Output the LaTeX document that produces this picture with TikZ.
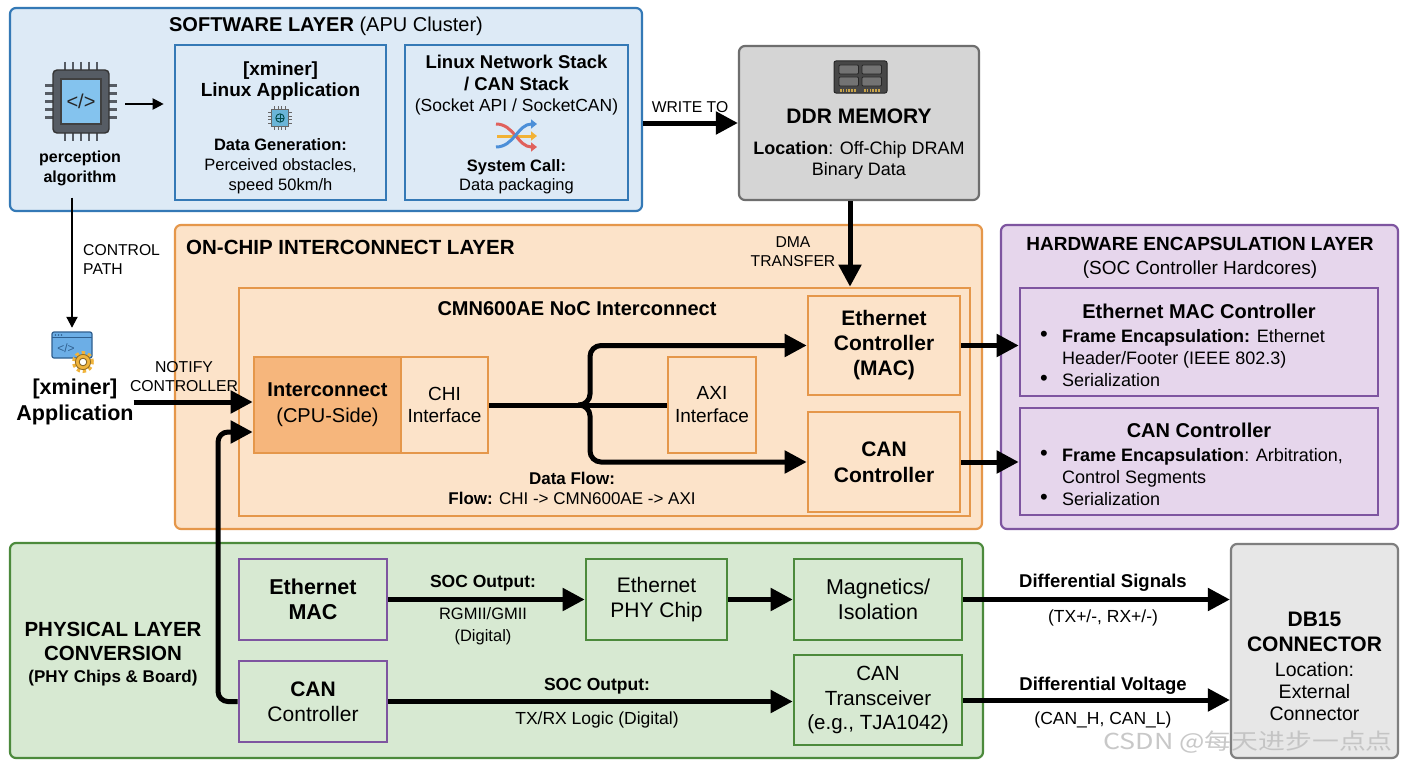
\documentclass[tikz,border=0pt]{standalone}
\usepackage{fontspec}
\setmainfont{Liberation Sans}
\newfontfamily\cjkfont{Noto Sans CJK SC}
\usetikzlibrary{arrows.meta,calc}
\newcommand\myfs[2]{\fontsize{#1pt}{#2pt}\selectfont}
\definecolor{swf}{HTML}{DDEAF6}
\definecolor{swd}{HTML}{3479B6}
\definecolor{ddrf}{HTML}{D5D5D5}
\definecolor{ddrd}{HTML}{6E6E6E}
\definecolor{ocf}{HTML}{FCE3C9}
\definecolor{ocd}{HTML}{E5974A}
\definecolor{icf}{HTML}{F6B67C}
\definecolor{hwf}{HTML}{E6D6EC}
\definecolor{hwd}{HTML}{7E55A0}
\definecolor{phf}{HTML}{D7E9D2}
\definecolor{phd}{HTML}{4C8A3C}
\definecolor{dbf}{HTML}{E7E7E7}
\definecolor{dbd}{HTML}{7F7F7F}
\definecolor{cpub}{HTML}{565C64}
\definecolor{cpui}{HTML}{84C3EE}
\definecolor{shr}{HTML}{E0615C}
\definecolor{shb}{HTML}{4C8FD8}
\definecolor{shy}{HTML}{F2B236}
\definecolor{gearc}{HTML}{F0B43C}
\definecolor{winf}{HTML}{6CAEE6}
\definecolor{wind}{HTML}{2F5F8F}
\definecolor{goldc}{HTML}{C9A44A}
\tikzset{
  layer/.style={draw, line width=2.2pt, rounded corners=6pt, inner sep=0pt},
  box/.style={draw, line width=2.6pt, inner sep=0pt},
  txt/.style={inner sep=0pt, align=center},
  big/.style={line width=5pt, -{Triangle[length=22pt,width=22pt]}},
  thinarr/.style={line width=2pt, -{Triangle[length=11pt,width=11pt]}},
}
\begin{document}
\begin{tikzpicture}[x=1pt,y=-1pt]
\fill[white] (0,0) rectangle (1408,768);
\useasboundingbox (0,0) rectangle (1408,768);

% ---------------- SOFTWARE LAYER ----------------
\node[layer, draw=swd, fill=swf, minimum width=632pt, minimum height=203pt] (sw) at (326,109.5) {};
\node[txt, font=\myfs{20}{24}] (swt) at (326,26) {\textbf{SOFTWARE LAYER} (APU Cluster)};

% CPU icon
\node[minimum width=70pt, minimum height=80pt, inner sep=0pt] (cpu) at (81,104) {};
\foreach \i in {0,...,4} {
  \draw[line width=2.2pt, cpub] (65+8*\i,62) -- (65+8*\i,72);
  \draw[line width=2.2pt, cpub] (65+8*\i,131) -- (65+8*\i,141);
  \draw[line width=2.2pt, cpub] (45,85.5+8*\i) -- (55,85.5+8*\i);
  \draw[line width=2.2pt, cpub] (107,85.5+8*\i) -- (117,85.5+8*\i);
}
\filldraw[fill=cpub, draw=black!80, line width=1.4pt, rounded corners=4pt] (53,70) rectangle (109,133);
\filldraw[fill=cpui, draw=black!75, line width=1.2pt] (61,79) rectangle (101,124);
\node[txt, font=\myfs{20}{20}, text=black!85] at (81,101) {</>};
\node[txt, font={\bfseries\myfs{16}{20}}] (perc) at (80,168) {perception\\algorithm};

% app box
\node[box, draw=swd, fill=swf, minimum width=211pt, minimum height=155pt] (app) at (280.5,122.5) {};
\node[txt, font={\bfseries\myfs{19}{21}}] (appt) at (280.5,81) {[xminer]\\Linux Application};
% small chip icon
\foreach \i in {0,...,3} {
  \draw[line width=0.9pt, black!60] (274.5+3.7*\i,106) -- (274.5+3.7*\i,110);
  \draw[line width=0.9pt, black!60] (274.5+3.7*\i,126) -- (274.5+3.7*\i,130);
  \draw[line width=0.9pt, black!60] (268,112.5+3.7*\i) -- (272,112.5+3.7*\i);
  \draw[line width=0.9pt, black!60] (288,112.5+3.7*\i) -- (292,112.5+3.7*\i);
}
\filldraw[fill=cpui!80!teal, draw=black!60, line width=0.8pt] (271.5,109.5) rectangle (288.5,126.5);
\draw[line width=0.9pt, teal!60!black] (280,118) circle (4.2pt);
\draw[line width=0.7pt, teal!60!black] (275.8,118) -- (284.2,118) (280,113.8) -- (280,122.2);
\node[txt, font=\myfs{16.5}{20}] (appd) at (280.5,166) {\textbf{Data Generation:}\\Perceived obstacles,\\speed 50km/h};

% stack box
\node[box, draw=swd, fill=swf, minimum width=223pt, minimum height=155pt] (stack) at (516.5,122.5) {};
\node[txt, font=\myfs{18.5}{21.5}] (stackt) at (516.5,85.5) {\textbf{Linux Network Stack}\\\textbf{/ CAN Stack}\\{\myfs{17.5}{21.5}(Socket API / SocketCAN)}};
% shuffle icon
\draw[line width=3pt, shy, -{Triangle[length=6pt,width=9pt]}] (497,136) -- (537,136);
\draw[line width=3pt, shr, -{Triangle[length=6pt,width=9pt]}] (496,124) .. controls (514,124) and (518,147) .. (537,147);
\draw[line width=3pt, shb, -{Triangle[length=6pt,width=9pt]}] (496,147) .. controls (514,147) and (518,124) .. (537,124);
\node[txt, font=\myfs{16.5}{19.5}] (stackd) at (516.5,176.5) {\textbf{System Call:}\\Data packaging};

% ---------------- DDR ----------------
\node[layer, draw=ddrd, fill=ddrf, minimum width=240pt, minimum height=154pt] (ddr) at (859,123) {};
\filldraw[fill=black!72, draw=black!85, line width=1pt, rounded corners=2pt] (834,61) rectangle (887,93);
\foreach \a/\b in {839/65, 862/65, 839/77, 862/77}
  \filldraw[fill=black!55, draw=black!85, line width=0.8pt, rounded corners=1pt] (\a,\b) rectangle ++(19.5,9);
\foreach \i in {0,...,5} {
  \fill[goldc] (840+2.8*\i,88.5) rectangle ++(1.6,3);
  \fill[goldc] (864+2.8*\i,88.5) rectangle ++(1.6,3);
}
\node[txt, font={\bfseries\myfs{21}{24}}] (ddrt) at (859,116) {DDR MEMORY};
\node[txt, font=\myfs{18}{21}] (ddrd) at (859,160.5) {\textbf{Location}: Off-Chip DRAM\\Binary Data};

\draw[big] (ddr.west -| sw.east) -- (ddr.west);
\node[txt, font=\myfs{15.7}{19}] (wr) at (690,107) {WRITE TO};

% ---------------- ON-CHIP INTERCONNECT ----------------
\node[layer, draw=ocd, fill=ocf, minimum width=807pt, minimum height=304pt] (oc) at (578.5,377) {};
\node[txt, anchor=west, font={\bfseries\myfs{20.5}{24}}] (oct) at (186,247) {ON-CHIP INTERCONNECT LAYER};
\node[box, draw=ocd, fill=ocf, minimum width=731pt, minimum height=228pt] (cmn) at (604.5,402) {};
\node[txt, font={\bfseries\myfs{20}{24}}] (cmnt) at (577,309) {CMN600AE NoC Interconnect};

\node[box, draw=ocd, fill=icf, minimum width=147pt, minimum height=96pt] (ic) at (327.5,405) {};
\node[txt, font=\myfs{20}{26}] at (ic) {\textbf{Interconnect}\\(CPU-Side)};
\node[box, draw=ocd, fill=ocf, minimum width=87pt, minimum height=96pt] (chi) at (444.5,405) {};
\node[txt, font=\myfs{19}{22}] at (chi) {CHI\\Interface};
\node[box, draw=ocd, fill=ocf, minimum width=88pt, minimum height=96pt] (axi) at (712,405) {};
\node[txt, font=\myfs{19}{23}] at (axi) {AXI\\Interface};
\node[box, draw=ocd, fill=ocf, minimum width=152pt, minimum height=99pt] (ethc) at (884,345.5) {};
\node[txt, font={\bfseries\myfs{21}{25}}] at (ethc) {Ethernet\\Controller\\(MAC)};
\node[box, draw=ocd, fill=ocf, minimum width=152pt, minimum height=100pt] (canc) at (884,462) {};
\node[txt, font={\bfseries\myfs{21}{26}}] at (canc) {CAN\\Controller};
\node[txt, font=\myfs{17}{20}] (flow) at (572,488) {\textbf{Data Flow:}\\\textbf{Flow:} CHI -> CMN600AE -> AXI};

\coordinate (br) at (578,405);
\draw[line width=5pt] (chi.east) -- (axi.west);
\draw[big, rounded corners=11pt] (br) -| (590,375) |- (ethc.west);
\draw[big, rounded corners=11pt] (br) -| (590,435) |- (canc.west);

\coordinate (dmas) at ($(ddr.south)+(-9,0)$);
\draw[big] (dmas) -- (dmas |- cmn.north);
\node[txt, font=\myfs{15.7}{19}] (dma) at (793,252) {DMA\\TRANSFER};

% control path / xminer application
\node[minimum width=42pt, minimum height=32pt, inner sep=0pt] (xicon) at (72,344) {};
\filldraw[fill=winf, draw=wind, line width=1.2pt, rounded corners=2pt] (52,332) rectangle (92,358);
\draw[wind, line width=1pt] (52,337.5) -- (92,337.5);
\foreach \d in {55.5,58.5,61.5} \fill[wind] (\d,335) circle (0.8pt);
\node[txt, font=\myfs{12}{12}, text=wind] at (66,348) {</>};
\draw[gearc, line width=4pt, dash pattern=on 3.2pt off 2.8pt] (83,362) circle (9pt);
\filldraw[fill=gearc, draw=gearc!60!black, line width=0.8pt] (83,362) circle (7.6pt);
\filldraw[fill=white, draw=gearc!50!black, line width=0.8pt] (83,362) circle (3.8pt);

\draw[thinarr, shorten <=12pt] (perc.south -| xicon.north) -- (xicon.north);
\node[txt, anchor=west, align=left, font=\myfs{15.7}{19}] (cp) at (83,260) {CONTROL\\PATH};
\draw[thinarr, shorten <=9pt, shorten >=10pt] (cpu.east) -- (cpu.east -| app.west);

\node[txt, font={\bfseries\myfs{21.5}{26}}] (xapp) at (75,402) {[xminer]\\Application};
\draw[big] (xapp.east) -- (xapp.east -| ic.west);
\node[txt, font=\myfs{15.8}{19}] (nt) at (184,377) {NOTIFY\\CONTROLLER};

% ---------------- HARDWARE ENCAPSULATION ----------------
\node[layer, draw=hwd, fill=hwf, minimum width=397pt, minimum height=304pt] (hw) at (1199.5,377) {};
\node[txt, font=\myfs{19}{24}] (hwt) at (1200,258) {\textbf{HARDWARE ENCAPSULATION LAYER}\\(SOC Controller Hardcores)};
\node[box, draw=hwd, fill=hwf, minimum width=358pt, minimum height=108pt] (hwe) at (1199,342) {};
\node[txt, font={\bfseries\myfs{20}{24}}] (hwet) at (1199,311) {Ethernet MAC Controller};
\node[txt, anchor=west, align=left, font=\myfs{18}{22}] (hweb) at (1062,358) {\textbf{Frame Encapsulation:} Ethernet\\Header/Footer (IEEE 802.3)\\Serialization};
\node[txt, font=\myfs{22}{22}] at (1044,336) {\textbullet};
\node[txt, font=\myfs{22}{22}] at (1044,380) {\textbullet};
\node[box, draw=hwd, fill=hwf, minimum width=358pt, minimum height=107pt] (hwc) at (1199,461.5) {};
\node[txt, font={\bfseries\myfs{20}{24}}] (hwct) at (1199,430) {CAN Controller};
\node[txt, anchor=west, align=left, font=\myfs{18}{22}] (hwcb) at (1062,477) {\textbf{Frame Encapsulation}: Arbitration,\\Control Segments\\Serialization};
\node[txt, font=\myfs{22}{22}] at (1044,455) {\textbullet};
\node[txt, font=\myfs{22}{22}] at (1044,499) {\textbullet};

\draw[big] (ethc.east) -- (ethc.east -| hwe.west);
\draw[big] (canc.east) -- (canc.east -| hwc.west);

% ---------------- PHYSICAL LAYER ----------------
\node[layer, draw=phd, fill=phf, minimum width=973pt, minimum height=215pt] (phy) at (496.5,650.5) {};
\node[txt, font={\bfseries\myfs{20.5}{24}}] (phyt) at (113,641) {PHYSICAL LAYER\\CONVERSION};
\node[txt, font={\bfseries\myfs{17}{20}}] (phys) at (113,678) {(PHY Chips \& Board)};

\node[box, draw=hwd, fill=phf, minimum width=148pt, minimum height=81pt] (pmac) at (313,599.5) {};
\node[txt, font={\bfseries\myfs{21.5}{25}}] at (pmac) {Ethernet\\MAC};
\node[box, draw=hwd, fill=phf, minimum width=148pt, minimum height=81pt] (pcan) at (313,701.5) {};
\node[txt, font=\myfs{21}{25}] at (pcan) {\textbf{CAN}\\Controller};
\node[box, draw=phd, fill=phf, minimum width=141pt, minimum height=81pt] (pphy) at (656.5,599.5) {};
\node[txt, font=\myfs{21}{25}] at (pphy) {Ethernet\\PHY Chip};
\node[box, draw=phd, fill=phf, minimum width=168pt, minimum height=81pt] (pmag) at (878,599.5) {};
\node[txt, font=\myfs{21.5}{25}] at (pmag) {Magnetics/\\Isolation};
\node[box, draw=phd, fill=phf, minimum width=168pt, minimum height=90pt] (ptrx) at (878,700) {};
\node[txt, font=\myfs{20.5}{24.5}] at (ptrx) {CAN\\Transceiver\\(e.g., TJA1042)};

% CAN controller back up to interconnect
\coordinate (canup) at (218,432);
\draw[big, rounded corners=10pt] (pcan.west) -| (canup) -- (canup -| ic.west);

\draw[big] (pmac.east) -- (pmac.east -| pphy.west);
\draw[big] (pphy.east) -- (pphy.east -| pmag.west);
\draw[big] (pcan.east) -- (pcan.east -| ptrx.west);

\node[txt, font={\bfseries\myfs{17.5}{20}}] (so1) at (483,583) {SOC Output:};
\node[txt, font=\myfs{16.5}{22}] (so1b) at (483,626) {RGMII/GMII\\(Digital)};
\node[txt, font={\bfseries\myfs{17.5}{20}}] (so2) at (597,686) {SOC Output:};
\node[txt, font=\myfs{17.5}{20}] (so2b) at (597,720) {TX/RX Logic (Digital)};

% DB15
\node[layer, draw=dbd, fill=dbf, minimum width=167pt, minimum height=214pt] (db) at (1314.5,651) {};
\node[txt, font={\bfseries\myfs{21}{25}}] (dbt) at (1314.5,632) {DB15\\CONNECTOR};
\node[txt, font=\myfs{19.5}{22}] (dbl) at (1314.5,692) {Location:\\External\\Connector};

\draw[big] (pmag.east) -- (pmag.east -| db.west);
\draw[big] (ptrx.east) -- (ptrx.east -| db.west);
\node[txt, font={\bfseries\myfs{18.5}{20}}] (ds1) at (1103,583) {Differential Signals};
\node[txt, font=\myfs{17.5}{20}] (ds1b) at (1103,618) {(TX+/-, RX+/-)};
\node[txt, font={\bfseries\myfs{18.5}{20}}] (ds2) at (1103,686) {Differential Voltage};
\node[txt, font=\myfs{17.5}{20}] (ds2b) at (1103,720) {(CAN\_H, CAN\_L)};

% watermark
\node[txt, text=black!25, opacity=0.85] (wm) at (1248,742) {\scalebox{1.22}[1]{\cjkfont\myfs{22}{22}CSDN @每天进步一点点}};
\end{tikzpicture}
\end{document}
